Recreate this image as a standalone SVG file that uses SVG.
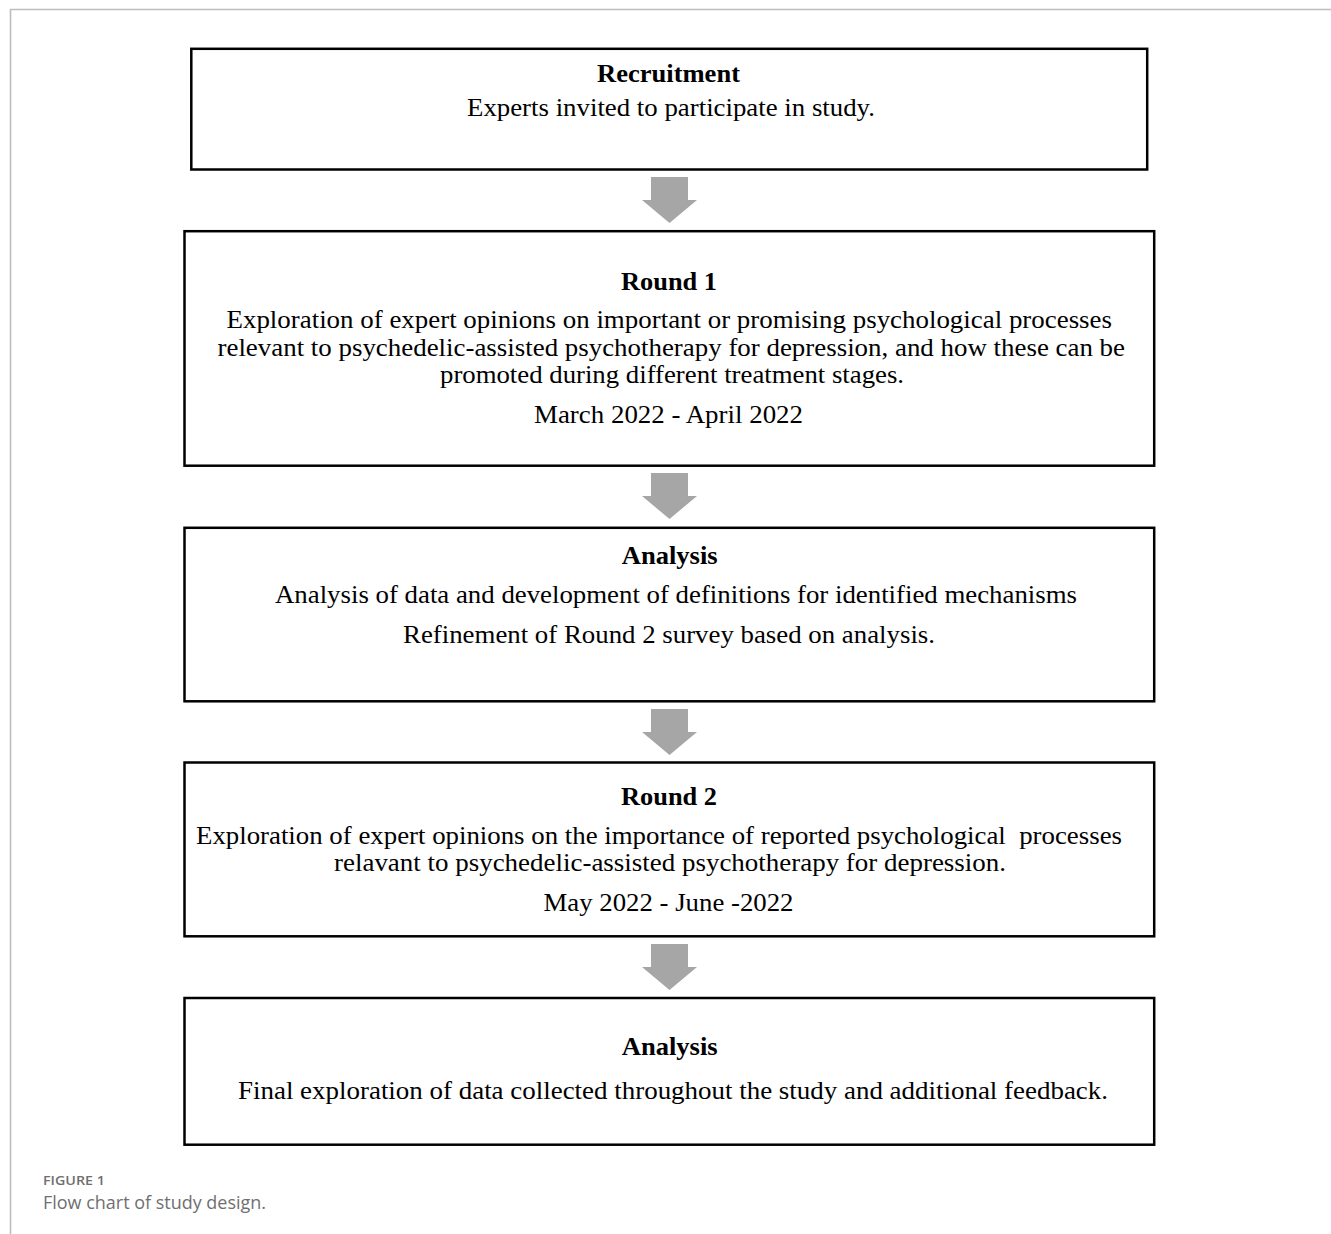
<svg xmlns="http://www.w3.org/2000/svg" width="1331" height="1234" viewBox="0 0 1331 1234">
<style>
.box{fill:#fff;stroke:#000;stroke-width:2.5}
.t{font-family:"Liberation Serif","Times New Roman",Times,serif;font-size:25.5px;fill:#000}
.b{font-weight:bold}
.arr{fill:#a6a6a6}
.frame{stroke:#bdbdbd;stroke-width:1.6;fill:none}
.cap{font-family:"Open Sans","Noto Sans",sans-serif;fill:#6f6f6f}
</style>
<defs>
<path id="arrow" d="M-18.5,0 H18.5 V23 H27.5 L0,46 L-27.5,23 H-18.5 Z"/>
</defs>
<rect width="1331" height="1234" fill="#fff"/>
<path class="frame" d="M10.5,1234 V9.5 H1331"/>

<g id="connectors" class="arr">
<use href="#arrow" x="669.5" y="177"/>
<use href="#arrow" x="669.5" y="473"/>
<use href="#arrow" x="669.5" y="709"/>
<use href="#arrow" x="669.5" y="944"/>
</g>

<g id="recruitment">
<rect class="box" x="191.3" y="48.8" width="955.9" height="120.7"/>
<text class="t b" x="597" y="82" textLength="143" lengthAdjust="spacingAndGlyphs">Recruitment</text>
<text class="t" x="467" y="116" textLength="408" lengthAdjust="spacingAndGlyphs">Experts invited to participate in study.</text>
</g>

<g id="round1">
<rect class="box" x="184.5" y="231.2" width="969.7" height="234.5"/>
<text class="t b" x="621" y="290" textLength="96" lengthAdjust="spacingAndGlyphs">Round 1</text>
<text class="t" x="226.5" y="328" textLength="885.5" lengthAdjust="spacingAndGlyphs">Exploration of expert opinions on important or promising psychological processes</text>
<text class="t" x="217.5" y="356" textLength="907.5" lengthAdjust="spacingAndGlyphs">relevant to psychedelic-assisted psychotherapy for depression, and how these can be</text>
<text class="t" x="440" y="383" textLength="464" lengthAdjust="spacingAndGlyphs">promoted during different treatment stages.</text>
<text class="t" x="534" y="423" textLength="269" lengthAdjust="spacingAndGlyphs">March 2022 - April 2022</text>
</g>

<g id="analysis1">
<rect class="box" x="184.5" y="527.8" width="969.7" height="173.5"/>
<text class="t b" x="621.7" y="564" textLength="96" lengthAdjust="spacingAndGlyphs">Analysis</text>
<text class="t" x="275" y="603" textLength="802" lengthAdjust="spacingAndGlyphs">Analysis of data and development of definitions for identified mechanisms</text>
<text class="t" x="403" y="643" textLength="532" lengthAdjust="spacingAndGlyphs">Refinement of Round 2 survey based on analysis.</text>
</g>

<g id="round2">
<rect class="box" x="184.5" y="762.5" width="969.7" height="173.8"/>
<text class="t b" x="621" y="805" textLength="96" lengthAdjust="spacingAndGlyphs">Round 2</text>
<text class="t" x="196" y="844" textLength="926" lengthAdjust="spacingAndGlyphs">Exploration of expert opinions on the importance of reported psychological&#160; processes</text>
<text class="t" x="334" y="871" textLength="672" lengthAdjust="spacingAndGlyphs">relavant to psychedelic-assisted psychotherapy for depression.</text>
<text class="t" x="543.5" y="911" textLength="250" lengthAdjust="spacingAndGlyphs">May 2022 - June -2022</text>
</g>

<g id="analysis2">
<rect class="box" x="184.5" y="998" width="969.7" height="146.7"/>
<text class="t b" x="621.7" y="1055" textLength="96" lengthAdjust="spacingAndGlyphs">Analysis</text>
<text class="t" x="238" y="1099" textLength="870" lengthAdjust="spacingAndGlyphs">Final exploration of data collected throughout the study and additional feedback.</text>
</g>

<g id="caption">
<text class="cap" x="43" y="1185" font-size="13" font-weight="600" textLength="62" lengthAdjust="spacingAndGlyphs">FIGURE 1</text>
<text class="cap" x="43" y="1209" font-size="17.5" textLength="223" lengthAdjust="spacingAndGlyphs">Flow chart of study design.</text>
</g>
</svg>
